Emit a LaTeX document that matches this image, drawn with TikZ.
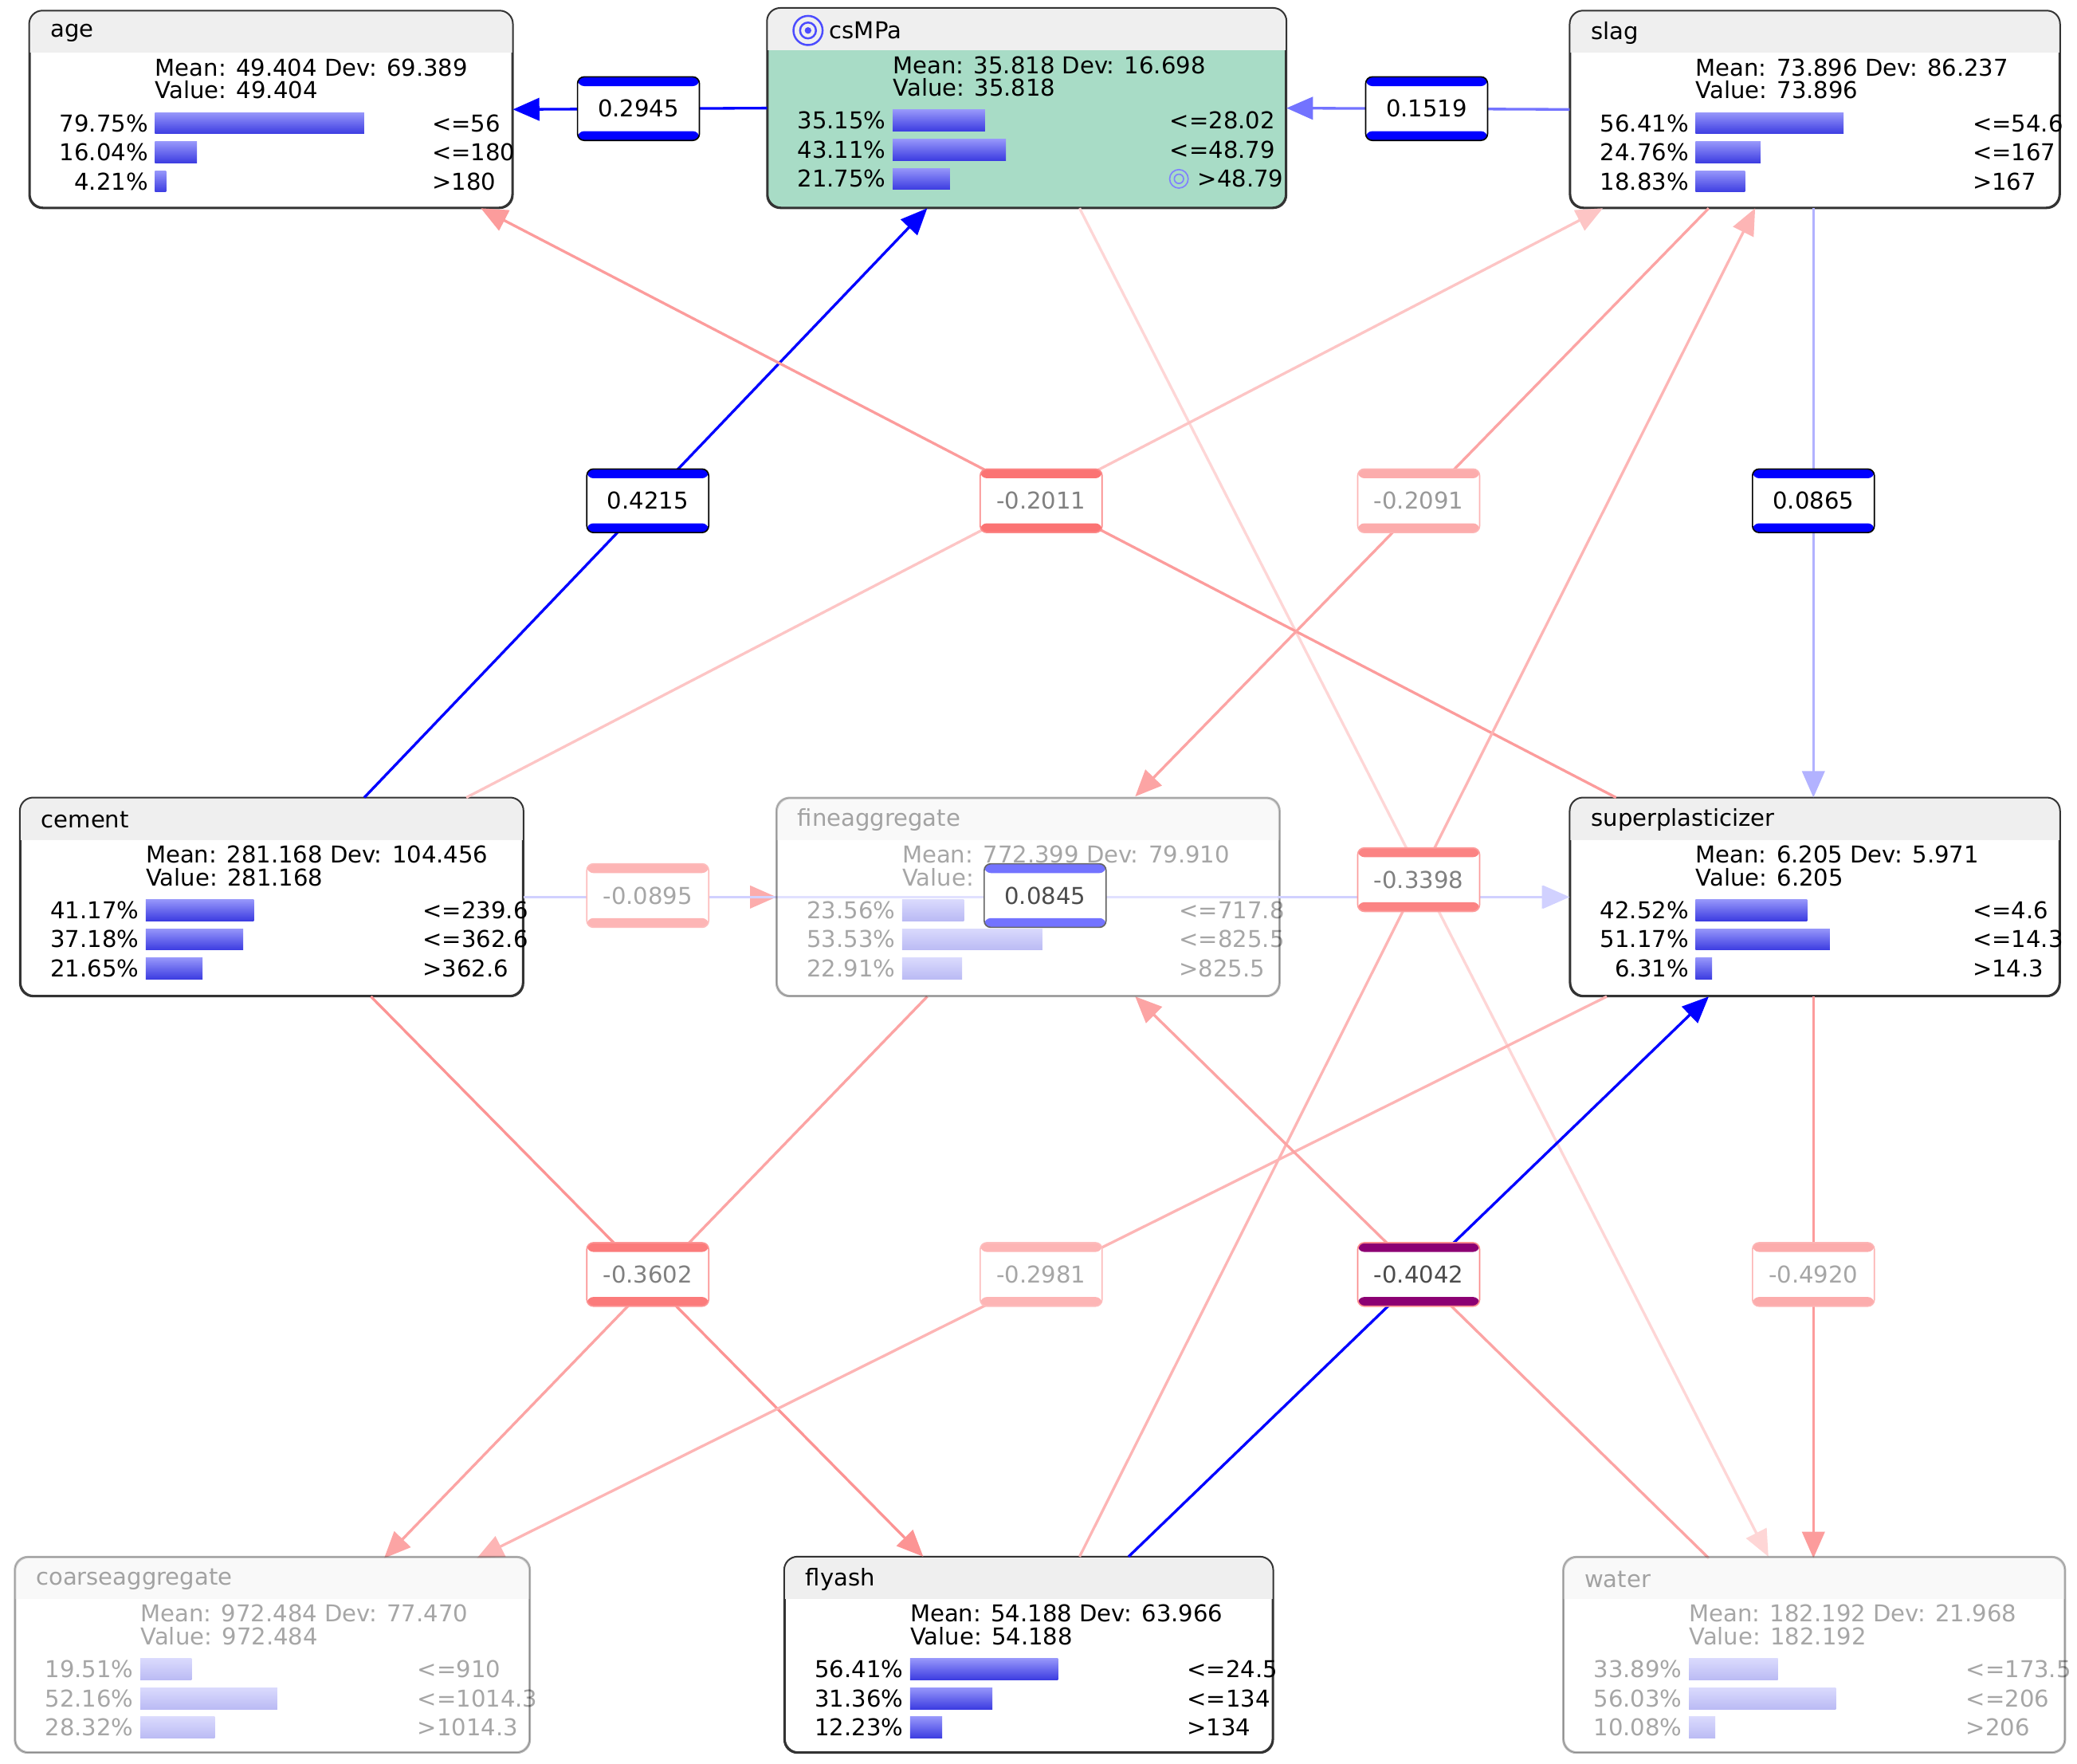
\documentclass[tikz,border=0pt]{standalone}
\usepackage{fontspec}
\setmainfont{DejaVu Sans}
\usetikzlibrary{arrows.meta,calc}
\definecolor{hdr}{HTML}{EFEFEF}
\definecolor{grn}{HTML}{A8DCC6}
\definecolor{eblue}{RGB}{0,0,255}
\definecolor{ered}{RGB}{250,90,90}
\definecolor{barc}{RGB}{60,60,225}
\definecolor{barl}{RGB}{150,150,250}
\tikzset{
 nbox/.style={draw=black!80,line width=1.2pt,rounded corners=10pt,inner sep=0pt},
 txt/.style={font=\fontsize{17.5}{18}\selectfont,inner sep=0pt,anchor=west},
 edge/.style={line width=2pt,-{Triangle[length=20pt,width=17pt]}},
 bedge/.style={edge,draw=eblue!#1,fill=eblue!#1},
 redge/.style={edge,draw=ered!#1,fill=ered!#1},
 wlab/.style={rounded corners=5pt,minimum width=92pt,minimum height=48pt,fill=white,inner sep=0pt,
   font=\fontsize{17.5}{18}\selectfont,line width=1pt,
   path picture={\fill[#1] (path picture bounding box.north west) rectangle ([yshift=-7pt]path picture bounding box.north east);
     \fill[#1] (path picture bounding box.south west) rectangle ([yshift=7pt]path picture bounding box.south east);}},
}
\newcommand\nbox[7]{%
 \node[nbox,fill=#7,minimum width=#4pt,minimum height=#5pt,anchor=north west] (#1) at (#2,#3) {};
 \begin{scope}\clip[rounded corners=10pt] (#1.north west) rectangle (#1.south east);
 \fill[hdr] (#1.north west) rectangle ([yshift=-32pt]#1.north east);\end{scope}
 \draw[nbox] (#1.north west) rectangle (#1.south east);
 \node[txt] (#1-t) at ([xshift=16pt,yshift=-17pt]#1.north west) {#6};}
\newcommand\stats[4]{%
 \node[txt] (#1-m) at ([xshift=95pt,yshift=-43pt]#1.north west) {Mean: #2 Dev: #3};
 \node[txt] (#1-v) at ([xshift=95pt,yshift=-60pt]#1.north west) {Value: #4};}
\newcommand\brow[4]{%
 \pgfmathsetmacro\yy{-85-22*(#2-1)}\pgfmathsetmacro\ll{1.98*#3}%
 \node[txt,anchor=east] (#1-p#2) at ([xshift=90pt,yshift=\yy pt]#1.north west) {#3\%};
 \shade[top color=barl,bottom color=barc] ([xshift=95pt,yshift=\yy pt+8pt]#1.north west) rectangle ([xshift=95pt+\ll pt,yshift=\yy pt-8pt]#1.north west);
 \node[txt] (#1-r#2) at ([xshift=304pt,yshift=\yy pt]#1.north west) {#4};}
\begin{document}
\begin{tikzpicture}[x=1pt,y=-1pt]
\useasboundingbox[fill=white] (0,0) rectangle (1568,1331);
\nbox{age}{22}{8}{364}{148}{age}{white}
\nbox{csMPa}{579}{6}{391}{150}{\hspace{31pt}csMPa}{grn}
\nbox{slag}{1185}{8}{369}{148}{slag}{white}
\nbox{cement}{15}{602}{379}{149}{cement}{white}
\nbox{sp}{1185}{602}{369}{149}{superplasticizer}{white}
\nbox{flyash}{592}{1175}{368}{147}{flyash}{white}
% edges
\draw[bedge=100] (csMPa.west) -- (age.east);
\draw[bedge=55] (slag.west) -- (csMPa.east);
\draw[bedge=100] ([xshift=260pt]cement.north west) -- ([xshift=121pt]csMPa.south west);
\draw[redge=25] ([xshift=236pt]csMPa.south west) -- ($([xshift=150pt]sp.north west)+(0,573)$);
\draw[redge=35] ([xshift=337pt]cement.north west) -- ([xshift=25pt]slag.south west);
\draw[redge=60] ([xshift=35pt]sp.north west) -- ([xshift=341pt]age.south west);
\draw[bedge=30] ([xshift=184pt]slag.south west) -- ([xshift=184pt]sp.north west);
\draw[redge=45] ([xshift=223pt]flyash.north west) -- ([xshift=140pt]slag.south west);
\draw[redge=65] ([xshift=265pt]cement.south west) -- ([xshift=105pt]flyash.north west);
\draw[redge=60] ([xshift=184pt]sp.south west) -- ($([xshift=184pt]sp.south west)+(0,424)$);
\draw[redge=45] ([xshift=28pt]sp.south west) -- ([xshift=349pt]$(cement.south west)+(-4,424)$);
\draw[redge=50] (cement.east) -- ([xshift=191pt]cement.east);
\draw[bedge=18] (cement.east) -- (sp.west);
\draw[redge=55] ([xshift=105pt]slag.south west) -- ($([xshift=105pt]slag.south west)+(-433,444)$);
\draw[redge=55] ($([xshift=105pt]sp.south west)+(0,424)$) -- ($([xshift=105pt]sp.south west)+(-433,0)$);
\draw[redge=55] ($([xshift=114pt]cement.south west)+(571,0)$) -- ($([xshift=279pt]cement.south west)+(-4,424)$);
\draw[bedge=100] ([xshift=260pt]flyash.north west) -- ([xshift=105pt]sp.south west);
% faded boxes
\begin{scope}[opacity=.35]
\nbox{fine}{586}{602}{379}{149}{fineaggregate}{white}
\stats{fine}{772.399}{79.910}{772.399}
\brow{fine}{1}{23.56}{<=717.8}\brow{fine}{2}{53.53}{<=825.5}\brow{fine}{3}{22.91}{>825.5}
\nbox{coarse}{11}{1175}{388}{147}{coarseaggregate}{white}
\stats{coarse}{972.484}{77.470}{972.484}
\brow{coarse}{1}{19.51}{<=910}\brow{coarse}{2}{52.16}{<=1014.3}\brow{coarse}{3}{28.32}{>1014.3}
\nbox{water}{1180}{1175}{378}{147}{water}{white}
\stats{water}{182.192}{21.968}{182.192}
\brow{water}{1}{33.89}{<=173.5}\brow{water}{2}{56.03}{<=206}\brow{water}{3}{10.08}{>206}
\end{scope}
\draw[bedge=18] ([xshift=-2pt]fine.east) -- ([xshift=-1pt]sp.west);
% stats of solid boxes
\stats{age}{49.404}{69.389}{49.404}
\brow{age}{1}{79.75}{<=56}\brow{age}{2}{16.04}{<=180}\brow{age}{3}{4.21}{>180}
\stats{csMPa}{35.818}{16.698}{35.818}
\brow{csMPa}{1}{35.15}{<=28.02}\brow{csMPa}{2}{43.11}{<=48.79}\brow{csMPa}{3}{21.75}{\hspace{21pt}>48.79}
\draw[eblue!70,line width=1.5pt] ([xshift=31pt,yshift=-17pt]csMPa.north west) circle (11pt) circle (6pt);
\fill[eblue!70] ([xshift=31pt,yshift=-17pt]csMPa.north west) circle (2.5pt);
\draw[eblue!50,line width=1pt] ([xshift=311pt,yshift=-129pt]csMPa.north west) circle (7pt) circle (3.5pt);
\stats{slag}{73.896}{86.237}{73.896}
\brow{slag}{1}{56.41}{<=54.6}\brow{slag}{2}{24.76}{<=167}\brow{slag}{3}{18.83}{>167}
\stats{cement}{281.168}{104.456}{281.168}
\brow{cement}{1}{41.17}{<=239.6}\brow{cement}{2}{37.18}{<=362.6}\brow{cement}{3}{21.65}{>362.6}
\stats{sp}{6.205}{5.971}{6.205}
\brow{sp}{1}{42.52}{<=4.6}\brow{sp}{2}{51.17}{<=14.3}\brow{sp}{3}{6.31}{>14.3}
\stats{flyash}{54.188}{63.966}{54.188}
\brow{flyash}{1}{56.41}{<=24.5}\brow{flyash}{2}{31.36}{<=134}\brow{flyash}{3}{12.23}{>134}
% weight labels
\node[wlab=eblue,draw=black] (w1) at (482,82) {0.2945};
\node[wlab=eblue,draw=black] (w2) at (1077,82) {0.1519};
\node[wlab=eblue,draw=black] (w3) at (489,378) {0.4215};
\node[wlab=ered!85,draw=ered!70,text=black!50] (w4) at (786,378) {-0.2011};
\node[wlab=ered!50,draw=ered!45,text=black!40] (w5) at (1071,378) {-0.2091};
\node[wlab=eblue,draw=black] (w6) at (1369,378) {0.0865};
\node[wlab=ered!45,draw=ered!40,text=black!35] (w7) at (489,676) {-0.0895};
\node[wlab=ered!75,draw=ered!60,text=black!50] (w9) at (1071,664) {-0.3398};
\node[wlab=eblue!55,draw=black!60,text=black!70] (w8) at (789,676) {0.0845};
\node[wlab=ered!80,draw=ered!65,text=black!50] (w10) at (489,962) {-0.3602};
\node[wlab=ered!45,draw=ered!40,text=black!35] (w11) at (786,962) {-0.2981};
\node[wlab=violet!80!purple,draw=ered!70,text=black!70] (w12) at (1071,962) {-0.4042};
\node[wlab=ered!50,draw=ered!45,text=black!35] (w13) at (1369,962) {-0.4920};
\end{tikzpicture}
\end{document}
